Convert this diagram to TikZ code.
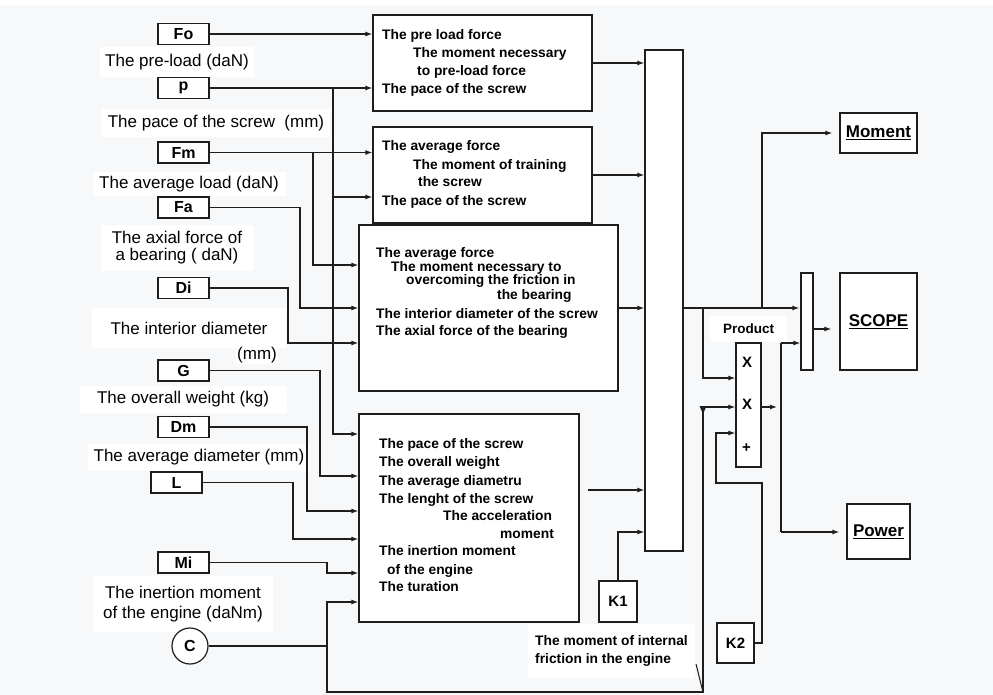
\documentclass[tikz,border=0pt]{standalone}
\usepackage{fontspec}
\setmainfont{Liberation Sans}
\usetikzlibrary{arrows.meta,calc}
\definecolor{bgc}{HTML}{F7F8FA}
\definecolor{lc}{HTML}{1E1E1E}
\newcommand\lfont{\fontsize{17}{20}\selectfont}
\newcommand\bfnt{\bfseries\fontsize{13.8}{17.5}\selectfont}
\newcommand\infont{\bfseries\fontsize{16}{18}\selectfont}
\begin{document}
\begin{tikzpicture}[x=1pt,y=-1pt,
 box/.style={draw=lc, line width=1.2pt, fill=white, inner sep=0pt},
 inbox/.style={box, minimum width=51pt, minimum height=21pt, font=\infont},
 kbox/.style={box, font=\bfseries\fontsize{15}{17}\selectfont},
 lbl/.style={fill=white, inner sep=0pt, font=\lfont, align=center},
 btxt/.style={inner sep=0pt, anchor=mid west, font=\bfnt},
 wire/.style={draw=lc, line width=1.2pt},
 arr/.style={wire, -{Latex[length=7pt,width=5pt]}},
 outbox/.style={box, font=\bfseries\fontsize{17}{20}\selectfont}
]
\fill[bgc] (0,0) rectangle (993,695);
\fill[white] (0,0) rectangle (993,5);
\useasboundingbox (0,0) rectangle (993,695);

% main blocks
\node[box, minimum width=219pt, minimum height=96pt] (b1) at (482.5,63) {};
\node[box, minimum width=219pt, minimum height=96pt] (b2) at (482.5,175) {};
\node[box, minimum width=259pt, minimum height=166pt] (b3) at (488.5,308) {};
\node[box, minimum width=220pt, minimum height=208pt] (b4) at (469,518) {};
\node[box, minimum width=38pt, minimum height=501pt] (bar) at (664,300.5) {};
\node[box, minimum width=12pt, minimum height=97pt] (mux) at (807,321.5) {};
\node[outbox, minimum width=77pt, minimum height=97pt] (scope) at (878.5,321.5) {\underline{SCOPE}};
\node[outbox, minimum width=77pt, minimum height=40pt] (moment) at (878.5,133) {\underline{Moment}};
\node[outbox, minimum width=63pt, minimum height=55pt] (power) at (878.5,531.5) {\underline{Power}};
\node[box, minimum width=25pt, minimum height=124pt] (prod) at (748.5,405) {};
\node[kbox, minimum width=38pt, minimum height=41pt] (k1) at (618,601.5) {K1};
\node[kbox, minimum width=37pt, minimum height=40pt] (k2) at (735.5,643) {K2};

% block texts
\node[btxt] (t11) at (382,37) {The pre load force};
\node[btxt] (t12) at (413,55) {The moment necessary};
\node[btxt] (t13) at (417,73) {to pre-load force};
\node[btxt] (t14) at (382,91) {The pace of the screw};

\node[btxt] (t21) at (382,148) {The average force};
\node[btxt] (t22) at (413,167) {The moment of training};
\node[btxt] (t23) at (418,184) {the screw};
\node[btxt] (t24) at (382,203) {The pace of the screw};

\node[btxt] (t31) at (376,255) {The average force};
\node[btxt] (t32) at (391,269) {The moment necessary to};
\node[btxt] (t33) at (406,282) {overcoming the friction in};
\node[btxt] (t34) at (497,297) {the bearing};
\node[btxt] (t35) at (376,316) {The interior diameter of the screw};
\node[btxt] (t36) at (376,333) {The axial force of the bearing};

\node[btxt] (t41) at (379,446) {The pace of the screw};
\node[btxt] (t42) at (379,464) {The overall weight};
\node[btxt] (t43) at (379,483) {The average diametru};
\node[btxt] (t44) at (379,501) {The lenght of the screw};
\node[btxt] (t45) at (443,518) {The acceleration};
\node[btxt] (t46) at (500,536) {moment};
\node[btxt] (t47) at (379,553) {The inertion moment};
\node[btxt] (t48) at (387,572) {of the engine};
\node[btxt] (t49) at (379,589) {The turation};

\node[btxt, font=\bfseries\fontsize{15}{15}\selectfont] (px1) at (742,365) {X};
\node[btxt, font=\bfseries\fontsize{15}{15}\selectfont] (px2) at (742,407) {X};
\node[btxt, font=\bfseries\fontsize{15}{15}\selectfont] (px3) at (742,450) {+};

% input boxes
\node[inbox] (Fo) at (183.5,34) {Fo};
\node[inbox] (P) at (183.5,88) {p};
\node[inbox] (Fm) at (183.5,152.5) {Fm};
\node[inbox] (Fa) at (183.5,207.5) {Fa};
\node[inbox] (Di) at (183.5,288) {Di};
\node[inbox] (G) at (183.5,370.5) {G};
\node[inbox] (Dm) at (183.5,427) {Dm};
\node[inbox] (L) at (176.5,482.5) {L};
\node[inbox] (Mi) at (183.5,562.5) {Mi};

% labels
\node[lbl, minimum width=154pt, minimum height=30pt] (lpre) at (177,62) {The pre-load (daN)};
\node[lbl, minimum width=228pt, minimum height=28pt] (lpace) at (216,123) {The pace of the screw\ \ (mm)};
\node[lbl, minimum width=193pt, minimum height=24pt] (lavg) at (189,184) {The average load (daN)};
\node[lbl, minimum width=153pt, minimum height=46pt, font=\fontsize{17}{17}\selectfont] (laxial) at (177,248) {The axial force of\\a bearing ( daN)};
\node[lbl, minimum width=194pt, minimum height=40pt] (lint) at (189,328) {The interior diameter};
\node[lbl, inner sep=1pt] (lmm) at (257,355) {(mm)};
\node[lbl, minimum width=207pt, minimum height=27pt] (lwt) at (183,399) {The overall weight (kg)};
\node[lbl, minimum width=222pt, minimum height=27pt] (ldiam) at (199,457) {The average diameter (mm)};
\node[lbl, minimum width=180pt, minimum height=56pt] (linert) at (183,604) {The inertion moment\\of the engine (daNm)};
\node[lbl, minimum width=167pt, minimum height=54pt, font=\bfnt, align=left] (lnote) at (611.5,651) {The moment of internal\\friction in the engine};
\node[lbl, minimum width=77pt, minimum height=26pt, font=\bfseries\fontsize{13.5}{16}\selectfont] (lprod) at (748.5,329) {Product};

\node[box, circle, minimum size=36pt, font=\infont] (C) at (190,646) {C};

% junctions
\coordinate (jp) at (P -| 333,0);
\coordinate (jfm) at (Fm -| 313,0);
\coordinate (jc) at (C -| 327,0);
\coordinate (jo) at (762,308);
\coordinate (jq) at (703,308);
\coordinate (jr) at (781,407);

% connectors to blocks
\draw[arr] (Fo) -- (Fo -| b1.west);
\draw[arr] (P) -- (P -| b1.west);
\draw[arr] (jp) |- (b2.west |- 0,197);
\draw[arr] (jp) |- (b4.west |- 0,434);
\draw[arr] (Fm) -- (Fm -| b2.west);
\draw[arr] (jfm) |- (b3.west |- 0,265);
\draw[arr] (Fa) -| (300,308) -- (b3.west |- 0,308);
\draw[arr] (Di) -| (288,343) -- (b3.west |- 0,343);
\draw[arr] (G) -| (320,476) -- (b4.west |- 0,476);
\draw[arr] (Dm) -| (307,511) -- (b4.west |- 0,511);
\draw[arr] (L) -| (293,539) -- (b4.west |- 0,539);
\draw[arr] (Mi) -| (327,573) -- (b4.west |- 0,573);
\draw[wire] (C) -- (jc);
\draw[arr] (jc) |- (b4.west |- 0,602);
\draw[arr] (jc) -- (327,692) -| (703,407) -- (prod.west |- 0,407);
\fill[lc] (699.5,406) -- (706.5,406) -- (703,414) -- cycle;
\draw[wire, line width=1pt] (696,664) -- (703,692);

% blocks to bar
\draw[arr] (b1.east |- 0,63) -- (bar.west |- 0,63);
\draw[arr] (b2.east |- 0,175) -- (bar.west |- 0,175);
\draw[arr] (b3.east |- 0,308) -- (bar.west |- 0,308);
\draw[arr, shorten <=8pt] (b4.east |- 0,490) -- (bar.west |- 0,490);
\draw[arr] (k1) |- (bar.west |- 0,532);

% bar output
\draw[arr, shorten >=1pt] (bar.east |- 0,308) -- (mux.west |- 0,308);
\draw[arr, shorten >=7pt] (jo) |- (moment.west);
\draw[arr] (jq) |- (prod.west |- 0,378);
\draw[arr] (k2) -| (762,483) -| (716,433) -- (prod.west |- 0,433);

% product output
\draw[arr, shorten >=4pt] (prod.east |- jr) -- (jr);
\draw[wire] (781,343) -- (781,532);
\draw[arr] (781,343) -- (mux.west |- 0,343);
\draw[arr, shorten >=7pt] (781,532) -- (power.west |- 0,532);
\draw[arr, shorten >=8pt] (mux.east |- 0,329) -- (scope.west |- 0,329);
\end{tikzpicture}
\end{document}
